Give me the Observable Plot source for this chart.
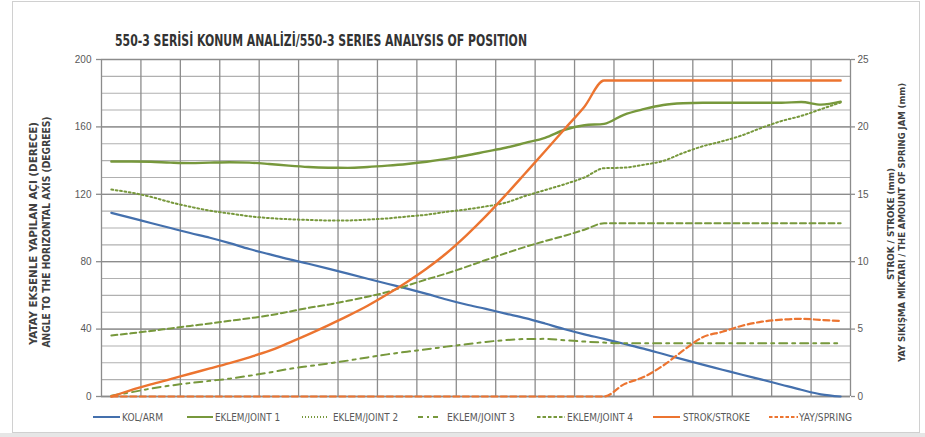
<!DOCTYPE html>
<html><head><meta charset="utf-8">
<script src="https://cdn.jsdelivr.net/npm/d3@7"></script>
<script src="https://cdn.jsdelivr.net/npm/@observablehq/plot@0.6"></script>
<style>
body{margin:0;background:#fff;}
#wrap{position:relative;width:925px;height:437px;overflow:hidden;font-family:"Liberation Sans Narrow","DejaVu Sans Condensed",sans-serif;}
#wrap > svg{position:absolute;left:0;top:0;}
</style></head><body><div id="wrap"></div>
<script>
// ---- data ----
const step = [0,1,2,3,4,5,6,7,8,9,10,11,12,13,14,15,16,17,18,19,20,21,22,23,24,25,26,27,28,29,30,31,32,33,34,35,36,37];
// angles in degrees (left axis)
const arm    = [109.0,106.0,103.0,100.0,97.0,94.2,91.0,87.5,84.5,81.5,78.8,75.9,72.9,69.9,66.9,64.0,60.9,57.6,54.6,52.0,49.2,46.5,43.3,39.9,36.9,34.2,31.3,28.4,25.2,22.0,18.9,15.9,12.9,10.0,7.0,4.0,1.3,0.0];
const joint1 = [139.5,139.5,139.3,138.8,138.5,138.8,139.0,138.8,138.0,137.0,136.2,135.8,135.7,136.2,137.0,138.0,139.3,141.0,143.0,145.3,147.6,150.5,153.5,158.3,161.0,161.8,167.2,170.5,173.0,174.0,174.3,174.3,174.3,174.3,174.3,174.8,173.2,175.0];
const joint2 = [122.8,121.0,118.5,115.3,112.6,110.3,108.6,107.0,105.9,105.2,104.8,104.5,104.5,105.0,105.7,106.8,107.9,109.6,111.0,112.8,115.0,119.0,122.5,126.0,130.0,135.5,135.8,137.5,139.8,144.5,148.5,151.5,155.0,159.5,163.5,166.5,170.5,174.5];
const joint3 = [0.5,2.5,4.7,6.5,8.0,9.3,10.6,12.3,14.2,16.3,18.0,19.6,21.3,23.2,25.0,26.6,28.0,29.6,31.0,32.4,33.5,34.1,34.2,33.4,32.6,32.0,31.6,31.6,31.6,31.6,31.6,31.6,31.6,31.6,31.6,31.6,31.6,31.6];
const joint4 = [36.2,37.5,38.9,40.4,41.9,43.3,44.9,46.4,48.1,50.3,52.6,54.5,56.8,59.2,62.0,65.8,69.5,73.0,76.9,81.0,85.0,88.8,92.2,95.4,99.0,102.8,102.8,102.8,102.8,102.8,102.8,102.8,102.8,102.8,102.8,102.8,102.8,102.8];
// millimetres (right axis)
const strokeMm = [0,0.48,0.90,1.29,1.69,2.08,2.48,2.91,3.38,3.98,4.61,5.28,5.98,6.73,7.58,8.50,9.50,10.63,11.94,13.38,14.94,16.56,18.19,19.85,21.50,23.44,23.44,23.44,23.44,23.44,23.44,23.44,23.44,23.44,23.44,23.44,23.44,23.44];
const springMm = [0,0,0,0,0,0,0,0,0,0,0,0,0,0,0,0,0,0,0,0,0,0,0,0,0,0,0.9,1.44,2.3,3.4,4.4,4.8,5.25,5.55,5.7,5.76,5.68,5.6];

const seriesNames = ["KOL/ARM","EKLEM/JOINT 1","EKLEM/JOINT 2","EKLEM/JOINT 3","EKLEM/JOINT 4","STROK/STROKE","YAY/SPRING"];
const angleTicks = [0,40,80,120,160,200];
const mmTicks = [0,5,10,15,20,25];
const titleText = "550-3 SERİSİ KONUM ANALİZİ/550-3 SERIES ANALYSIS OF POSITION";
const leftTitle = ["YATAY EKSENLE  YAPILAN  AÇI (DERECE)","ANGLE TO THE HORIZONTAL AXIS  (DEGREES)"];
const rightTitle = ["STROK / STROKE  (mm)","YAY SIKIŞMA MİKTARI / THE AMOUNT OF SPRING JAM (mm)"];

// ---- build ----
const degPerMm = 200 / 25; // right axis 25 mm spans the same height as 200°
const styles = [
  {stroke:"#4470ad", width:2.2, dash:null},
  {stroke:"#77983c", width:2.4, dash:null},
  {stroke:"#77983c", width:2.0, dash:"1.8,2.6"},
  {stroke:"#77983c", width:2.0, dash:"8,5,3,5"},
  {stroke:"#77983c", width:2.0, dash:"6,3.5"},
  {stroke:"#ec7430", width:2.4, dash:null},
  {stroke:"#ec7430", width:2.2, dash:"6,3.5"}
];
const valuesDeg = [arm, joint1, joint2, joint3, joint4, strokeMm.map(v=>v*degPerMm), springMm.map(v=>v*degPerMm)];
const rows = seriesNames.map((name,i)=> step.map((s,j)=>({step:s, value:valuesDeg[i][j], series:name})));

const vGrid = d3.range(step[0]-0.5, step[step.length-1]+1, 2);
const minorGrid = d3.range(0, 201, 10);

const lineMarks = rows.map((r,i)=>Plot.line(r,{x:"step",y:"value",curve:"monotone-x",stroke:styles[i].stroke,strokeWidth:styles[i].width,strokeDasharray:styles[i].dash}));

const chart = Plot.plot({
  width:925, height:437,
  marginLeft:101, marginRight:75, marginTop:59, marginBottom:41,
  style:{fontFamily:"'Liberation Sans','DejaVu Sans',sans-serif",fontSize:"10px",color:"#595959",background:"transparent"},
  x:{domain:[step[0]-0.5, step[step.length-1]+0.5], axis:null},
  y:{domain:[0,200], axis:null},
  marks:[
    Plot.ruleY(minorGrid,{stroke:"#b0b0b0",strokeOpacity:1,strokeWidth:1.1}),
    Plot.ruleX(vGrid,{stroke:"#8c8c8c",strokeOpacity:1,strokeWidth:1.3}),
    Plot.ruleY(angleTicks,{stroke:"#8c8c8c",strokeOpacity:1,strokeWidth:1.3}),
    Plot.axisY(angleTicks,{anchor:"left",tickSize:5,tickPadding:5,label:null,stroke:"#8c8c8c",strokeWidth:1.3,fill:"#595959"}),
    Plot.axisY(mmTicks.map(v=>v*degPerMm),{anchor:"right",tickSize:4,tickPadding:3,label:null,tickFormat:d=>d/degPerMm,stroke:"#8c8c8c",strokeWidth:1.3,fill:"#595959"}),
    Plot.ruleY([0],{stroke:"#8c8c8c",strokeWidth:1.3}),
    ...lineMarks
  ]
});
document.getElementById("wrap").append(chart);

// ---- overlay texts: frame, title, axis titles, legend ----
const ov = d3.select("#wrap").append("svg").attr("width",925).attr("height",437).style("pointer-events","none");
ov.append("rect").attr("x",0).attr("y",433).attr("width",925).attr("height",4).attr("fill","#e6e6e6");
ov.append("rect").attr("x",12.5).attr("y",1.5).attr("width",907).attr("height",431).attr("fill","none").attr("stroke","#d0d0d0");
const ff = "'Liberation Sans Narrow','DejaVu Sans Condensed',sans-serif";
ov.append("text").text(titleText).attr("x",115).attr("y",45.5).attr("font-family",ff).attr("font-weight","bold")
  .attr("font-size",15).attr("fill","#333").attr("textLength",412).attr("lengthAdjust","spacingAndGlyphs");

function vtext(str, bx, cy, size, len){
  ov.append("text").text(str).attr("transform",`translate(${bx},${cy}) rotate(-90)`).attr("text-anchor","middle")
    .attr("font-family",ff).attr("font-weight","bold").attr("font-size",size).attr("fill","#404040")
    .attr("textLength",len).attr("lengthAdjust","spacingAndGlyphs");
}
vtext(leftTitle[0], 36.5, 233.5, 10, 223);
vtext(leftTitle[1], 49.5, 232, 10, 231);
vtext(rightTitle[0], 893.5, 224, 9, 112);
vtext(rightTitle[1], 904.5, 222.5, 9, 279);

const legendLayout = [
  {x1:93,x2:120,tx:122,len:41},
  {x1:187,x2:213,tx:215,len:65},
  {x1:302,x2:328,tx:333,len:65},
  {x1:418,x2:442,tx:447,len:68},
  {x1:537,x2:565,tx:567,len:66},
  {x1:653,x2:680,tx:683,len:67},
  {x1:769,x2:798,tx:799,len:53}
];
seriesNames.forEach((name,i)=>{
  const L = legendLayout[i], s = styles[i];
  ov.append("line").attr("x1",L.x1).attr("x2",L.x2).attr("y1",417).attr("y2",417)
    .attr("stroke",s.stroke).attr("stroke-width",Math.min(s.width,2)).attr("stroke-dasharray",s.dash ? (i===2?"1,2":(i===3?"5,4,2,4":"3.5,2")) : null);
  ov.append("text").text(name).attr("x",L.tx).attr("y",420.5).attr("font-family",ff).attr("font-size",10)
    .attr("fill","#595959").attr("textLength",L.len).attr("lengthAdjust","spacingAndGlyphs");
});
</script>
</body></html>
